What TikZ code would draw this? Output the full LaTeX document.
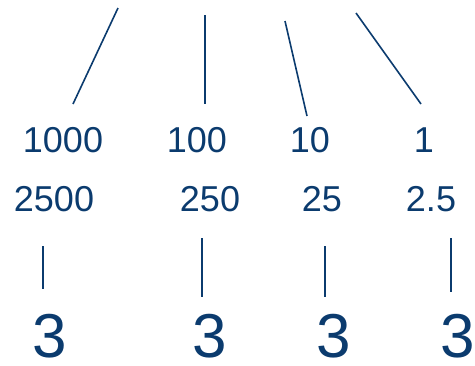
\documentclass[tikz,border=0pt]{standalone}
\usepackage{fontspec}
\setmainfont{Liberation Sans}
\usepackage{tikz}
\definecolor{PlaceBlue}{HTML}{0B3B6E}

\begin{document}
\begin{tikzpicture}[
    x=1pt, y=-1pt,
    num/.style={text=PlaceBlue, inner sep=0pt, font=\fontsize{36}{40}\selectfont},
    big/.style={text=PlaceBlue, inner sep=0pt, font=\fontsize{62}{70}\selectfont},
    tick/.style={draw=PlaceBlue, line width=1.6pt}
]
    \useasboundingbox (0,0) rectangle (475,365);

    % Place values
    \node[num] (p1000) at (63,140) {1000};
    \node[num] (p100) at (197,140) {100};
    \node[num] (p10) at (310,140) {10};
    \node[num] (p1) at (424,140) {1};

    % Values of the digit
    \node[num] (v2500) at (54,199) {2500};
    \node[num] (v250) at (210,199) {250};
    \node[num] (v25) at (322,199) {25};
    \node[num] (v2p5) at (431,199) {2.5};

    % Digits
    \node[big] (d1) at (50,336) {3};
    \node[big] (d2) at (210,336) {3};
    \node[big] (d3) at (334,336) {3};
    \node[big] (d4) at (458,336) {3};

    % Line ends
    \coordinate (t1a) at (118,8);    \coordinate (t1b) at (73,104);
    \coordinate (t2a) at (205,15);   \coordinate (t2b) at (205,104);
    \coordinate (t3a) at (285,21);   \coordinate (t3b) at (307,116);
    \coordinate (t4a) at (356,13);   \coordinate (t4b) at (421,104);
    \coordinate (b1a) at (43,246);   \coordinate (b1b) at (43,289);
    \coordinate (b2a) at (202,238);  \coordinate (b2b) at (202,297);
    \coordinate (b3a) at (325,246);  \coordinate (b3b) at (325,297);
    \coordinate (b4a) at (451,238);  \coordinate (b4b) at (451,292);

    % Lines
    \draw[tick] (t1a) -- (t1b);
    \draw[tick] (t2a) -- (t2b);
    \draw[tick] (t3a) -- (t3b);
    \draw[tick] (t4a) -- (t4b);
    \draw[tick] (b1a) -- (b1b);
    \draw[tick] (b2a) -- (b2b);
    \draw[tick] (b3a) -- (b3b);
    \draw[tick] (b4a) -- (b4b);
\end{tikzpicture}
\end{document}
